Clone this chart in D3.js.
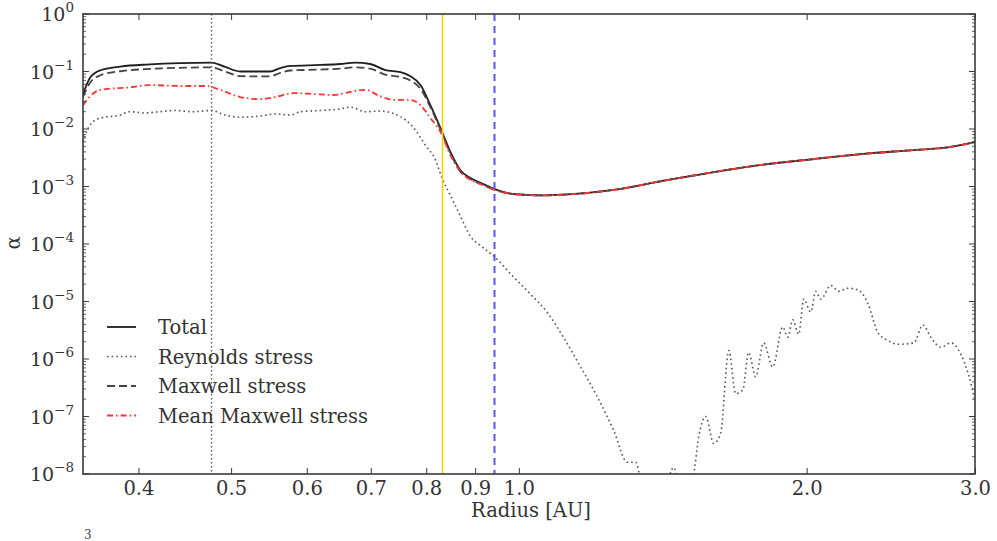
<!DOCTYPE html>
<html>
<head>
<meta charset="utf-8">
<script src="https://cdn.jsdelivr.net/npm/d3@7"></script>
<style>
  html, body { margin: 0; padding: 0; background: #fff; }
  svg { display: block; font-family: "DejaVu Serif", serif; }
</style>
</head>
<body>
<svg id="chart" width="997" height="541"></svg>
<script>
// ---------------- data ----------------
const totalRadius = [0.350,0.356,0.365,0.383,0.411,0.442,0.477,0.493,0.511,0.549,0.563,0.577,0.620,0.650,0.674,0.699,0.725,0.752,0.770,0.789,0.808,0.828,0.848,0.869,0.890,0.918,0.943,0.987,1.054,1.113,1.256,1.417,1.599,1.803,2.035,2.295,2.589,2.810,3.0];
const totalAlpha  = [0.040,0.078,0.105,0.122,0.133,0.140,0.143,0.120,0.100,0.100,0.115,0.125,0.130,0.135,0.143,0.135,0.106,0.098,0.083,0.058,0.026,0.0104,0.0040,0.0019,0.0014,0.0011,0.0009,0.00074,0.00070,0.00072,0.00087,0.00126,0.00178,0.0024,0.0030,0.0037,0.0043,0.0048,0.0059];

const maxwellRadius = totalRadius;
const maxwellAlpha  = [0.036,0.064,0.086,0.101,0.111,0.116,0.118,0.100,0.083,0.082,0.095,0.104,0.108,0.112,0.118,0.112,0.088,0.080,0.070,0.050,0.024,0.0098,0.0038,0.0018,0.00135,0.00106,0.00088,0.00074,0.00070,0.00072,0.00087,0.00126,0.00178,0.0024,0.0030,0.0037,0.0043,0.0048,0.0059];

const meanMaxwellRadius = [0.350,0.356,0.365,0.392,0.411,0.442,0.470,0.487,0.511,0.536,0.556,0.581,0.620,0.640,0.666,0.691,0.716,0.743,0.770,0.789,0.808,0.828,0.848,0.869,0.890,0.918,0.943,0.987,1.054,1.113,1.256,1.417,1.599,1.803,2.035,2.295,2.589,2.810,3.0];
const meanMaxwellAlpha  = [0.026,0.037,0.048,0.053,0.058,0.056,0.056,0.048,0.036,0.033,0.036,0.042,0.040,0.039,0.044,0.048,0.037,0.032,0.032,0.026,0.0155,0.0089,0.0035,0.0018,0.0013,0.00105,0.00087,0.00074,0.00070,0.00072,0.00087,0.00126,0.00178,0.0024,0.0030,0.0037,0.0043,0.0048,0.0059];

const reynoldsRadius = [0.350,0.356,0.365,0.383,0.392,0.406,0.421,0.437,0.456,0.477,0.493,0.511,0.536,0.556,0.577,0.591,0.620,0.650,0.666,0.691,0.716,0.743,0.761,0.779,0.798,0.818,0.831,0.848,0.869,0.890,0.911,0.943,0.987,1.028,1.072,1.113,1.160,1.208,1.256,1.299,1.325,1.345,1.400,1.452,1.480,1.523,1.542,1.568,1.599,1.626,1.658,1.686,1.715,1.739,1.769,1.803,1.843,1.888,1.911,1.934,1.962,1.986,2.020,2.044,2.069,2.120,2.161,2.208,2.262,2.317,2.374,2.432,2.491,2.589,2.646,2.697,2.763,2.831,2.900,2.950,3.0];
const reynoldsAlpha  = [0.0060,0.0118,0.0155,0.0175,0.020,0.019,0.020,0.021,0.020,0.021,0.0175,0.016,0.0168,0.0182,0.0175,0.020,0.021,0.0223,0.024,0.020,0.0205,0.018,0.0144,0.0097,0.0053,0.0029,0.0014,0.00070,0.00030,0.000135,0.000095,0.000060,0.0000267,1.35e-5,6.3e-6,2.4e-6,7.3e-7,2.2e-7,5.8e-8,1.6e-8,1.6e-8,6e-9,2e-9,1.3e-8,4e-9,1e-8,4.4e-8,1e-7,3.4e-8,5.2e-8,1.4e-6,2.5e-7,2.9e-7,1.3e-6,4.9e-7,1.9e-6,7.3e-7,3.6e-6,2.4e-6,4.8e-6,2.7e-6,1.1e-5,6.6e-6,1.5e-5,1.1e-5,1.9e-5,1.5e-5,1.7e-5,1.6e-5,9.4e-6,2.9e-6,2.1e-6,1.8e-6,1.9e-6,3.9e-6,2.4e-6,1.6e-6,1.9e-6,1.2e-6,5.7e-7,1.9e-7];

const xTickValues = [0.4,0.5,0.6,0.7,0.8,0.9,1.0,2.0,3.0];
const xTickLabels = ["0.4","0.5","0.6","0.7","0.8","0.9","1.0","2.0","3.0"];
const yTickExponents = [0,-1,-2,-3,-4,-5,-6,-7,-8];
const verticalMarkers = [0.477, 0.832, 0.943];
const legendLabels = ["Total","Reynolds stress","Maxwell stress","Mean Maxwell stress"];

// ---------------- layout ----------------
const svg = d3.select("#chart");
const M = {left: 83, top: 14, right: 22, bottom: 67};
const W = 997 - M.left - M.right;
const H = 541 - M.top - M.bottom;
const axisColor = "#3a3a3a";
const textColor = "#333";
const fontSize = 19.5;

const x = d3.scaleLog().domain([0.35, 3.0]).range([0, W]);
const y = d3.scaleLog().domain([1e-8, 1]).range([H, 0]);

const g = svg.append("g").attr("transform", `translate(${M.left},${M.top})`);

svg.append("defs").append("clipPath").attr("id", "plotclip")
  .append("rect").attr("x", 0).attr("y", 0).attr("width", W).attr("height", H);

const plot = g.append("g").attr("clip-path", "url(#plotclip)");

const zip = (rs, vs) => rs.map((r, i) => [r, vs[i]]);
const smooth = d3.line().x(d => x(d[0])).y(d => y(d[1])).curve(d3.curveMonotoneX);

const styles = {
  total:   {stroke: "#1e1e1e", width: 1.8, dash: null},
  reynolds:{stroke: "#555",    width: 1.6, dash: "1.6,3"},
  maxwell: {stroke: "#444",    width: 1.8, dash: "8,4"},
  mean:    {stroke: "#ff3333", width: 1.8, dash: "6,3,1.6,3"}
};

function drawSeries(data, st, gen) {
  plot.append("path").datum(data)
    .attr("d", gen)
    .attr("fill", "none")
    .attr("stroke", st.stroke)
    .attr("stroke-width", st.width)
    .attr("stroke-dasharray", st.dash)
    .attr("stroke-linejoin", "round");
}

drawSeries(zip(totalRadius, totalAlpha), styles.total, smooth);
drawSeries(zip(reynoldsRadius, reynoldsAlpha), styles.reynolds, smooth);
drawSeries(zip(maxwellRadius, maxwellAlpha), styles.maxwell, smooth);
drawSeries(zip(meanMaxwellRadius, meanMaxwellAlpha), styles.mean, smooth);

const markerStyles = [
  {stroke: "#555", width: 1.4, dash: "1.5,2.5"},
  {stroke: "#f2d200", width: 1.6, dash: null},
  {stroke: "#5555ff", width: 2, dash: "7,5"}
];
verticalMarkers.forEach((r, i) => {
  plot.append("line")
    .attr("x1", x(r)).attr("x2", x(r))
    .attr("y1", 0).attr("y2", H)
    .attr("stroke", markerStyles[i].stroke)
    .attr("stroke-width", markerStyles[i].width)
    .attr("stroke-dasharray", markerStyles[i].dash);
});

// ---------------- axes ----------------
const xAxis = d3.axisBottom(x).tickValues(xTickValues)
  .tickFormat((d, i) => xTickLabels[i]).tickSizeInner(-6).tickSizeOuter(0).tickPadding(7);
const gx = g.append("g").attr("transform", `translate(0,${H})`).call(xAxis);
gx.select(".domain").remove();
gx.selectAll(".tick line").attr("stroke", axisColor);
gx.selectAll(".tick text").attr("fill", textColor).attr("font-size", fontSize)
  .attr("font-family", "DejaVu Serif");
const gxt = g.append("g").call(d3.axisTop(x).tickValues(xTickValues).tickFormat("").tickSizeInner(-6).tickSizeOuter(0));
gxt.select(".domain").remove();
gxt.selectAll(".tick line").attr("stroke", axisColor);

const minorY = [];
for (let e = -8; e < 0; e++) for (let m = 2; m <= 9; m++) minorY.push(m * Math.pow(10, e));
const majorY = yTickExponents.map(e => Math.pow(10, e));

function yTicks(side) {
  const x0 = side === "left" ? 0 : W;
  const dir = side === "left" ? 1 : -1;
  const ga = g.append("g");
  ga.selectAll("line.major").data(majorY).join("line")
    .attr("x1", x0).attr("x2", x0 + dir * 6)
    .attr("y1", d => y(d)).attr("y2", d => y(d))
    .attr("stroke", axisColor).attr("stroke-width", 1);
  ga.selectAll("line.minor").data(minorY).join("line")
    .attr("x1", x0).attr("x2", x0 + dir * 3)
    .attr("y1", d => y(d)).attr("y2", d => y(d))
    .attr("stroke", axisColor).attr("stroke-width", 0.8);
}
yTicks("left");
yTicks("right");

const yl = g.append("g");
yTickExponents.forEach(e => {
  const t = yl.append("text")
    .attr("x", -9).attr("y", y(Math.pow(10, e)) + 7)
    .attr("text-anchor", "end")
    .attr("fill", textColor).attr("font-size", 19);
  t.append("tspan").text("10");
  t.append("tspan").attr("dy", -9).attr("font-size", 13.5).text(e === 0 ? "0" : "\u2212" + Math.abs(e));
});

g.append("rect").attr("x", 0).attr("y", 0).attr("width", W).attr("height", H)
  .attr("fill", "none").attr("stroke", axisColor).attr("stroke-width", 1.6);

g.append("text").attr("x", W / 2 + 2).attr("y", H + 43)
  .attr("text-anchor", "middle").attr("fill", textColor).attr("font-size", fontSize)
  .text("Radius [AU]");
svg.append("text").attr("transform", "translate(20,243) rotate(-90)")
  .attr("text-anchor", "middle").attr("fill", textColor).attr("font-size", fontSize)
  .text("α");

// ---------------- legend ----------------
const legendStyles = [styles.total, styles.reynolds, styles.maxwell, styles.mean];
const lg = g.append("g").attr("transform", "translate(24,313)");
legendLabels.forEach((lab, i) => {
  const yy = i * 29.5;
  const st = legendStyles[i];
  lg.append("line").attr("x1", 0).attr("x2", 29).attr("y1", yy).attr("y2", yy)
    .attr("stroke", st.stroke).attr("stroke-width", st.width)
    .attr("stroke-dasharray", st.dash);
  lg.append("text").attr("x", 51).attr("y", yy + 7)
    .attr("fill", textColor).attr("font-size", fontSize).text(lab);
});

svg.append("text").attr("x", 84).attr("y", 539).attr("fill", "#444").attr("font-size", 12).text("3");
</script>
</body>
</html>
